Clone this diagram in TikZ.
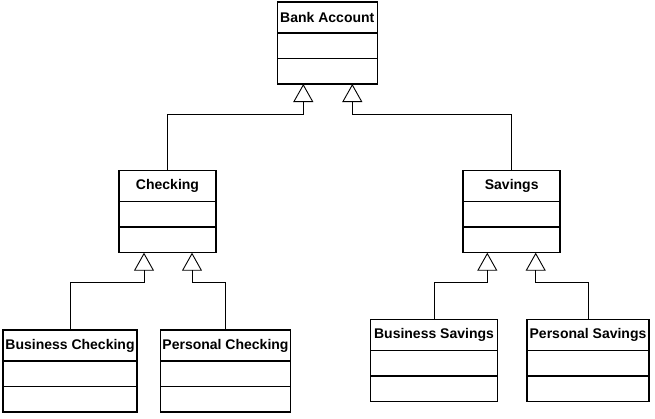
\documentclass[tikz,border=0pt]{standalone}
\usepackage{fontspec}
\setmainfont{Liberation Sans}
\usetikzlibrary{positioning,arrows.meta}
\begin{document}
\begin{tikzpicture}[
  x=1pt, y=-1pt,
  head/.style={rectangle, draw, line width=1.5pt, minimum width=#1, minimum height=31pt, inner sep=0pt, outer sep=0pt, font=\bfseries\fontsize{14}{16}\selectfont},
  part/.style={rectangle, draw, line width=1.5pt, minimum width=#1, minimum height=25.5pt, inner sep=0pt, outer sep=0pt},
  inherit/.style={-{Triangle[open, length=18pt, width=20pt]}, line width=0.9pt}
]
\useasboundingbox (0,0) rectangle (655,418);

% base class
\node[head=100pt, anchor=north] (acc) at (327.3,2) {Bank Account};
\node[part=100pt, below=0pt of acc] (acc-a) {};
\node[part=100pt, below=0pt of acc-a] (acc-b) {};

% second level
\node[head=97pt, anchor=north] (chk) at (167.5,170.7) {Checking};
\node[part=97pt, below=0pt of chk] (chk-a) {};
\node[part=97pt, below=0pt of chk-a] (chk-b) {};

\node[head=97pt, anchor=north] (sav) at (511.7,170.7) {Savings};
\node[part=97pt, below=0pt of sav] (sav-a) {};
\node[part=97pt, below=0pt of sav-a] (sav-b) {};

% leaf classes
\node[head=134pt, anchor=north] (bchk) at (70,330) {Business Checking};
\node[part=134pt, below=0pt of bchk] (bchk-a) {};
\node[part=134pt, below=0pt of bchk-a] (bchk-b) {};

\node[head=130pt, anchor=north] (pchk) at (225.5,330) {Personal Checking};
\node[part=130pt, below=0pt of pchk] (pchk-a) {};
\node[part=130pt, below=0pt of pchk-a] (pchk-b) {};

\node[head=127pt, anchor=north] (bsav) at (434,319.3) {Business Savings};
\node[part=127pt, below=0pt of bsav] (bsav-a) {};
\node[part=127pt, below=0pt of bsav-a] (bsav-b) {};

\node[head=122pt, anchor=north] (psav) at (588,319.3) {Personal Savings};
\node[part=122pt, below=0pt of psav] (psav-a) {};
\node[part=122pt, below=0pt of psav-a] (psav-b) {};

% arrow ends under each parent
\coordinate (acc-l) at ([xshift=-24pt]acc-b.south);
\coordinate (acc-r) at ([xshift=25pt]acc-b.south);
\coordinate (chk-l) at ([xshift=-23.5pt]chk-b.south);
\coordinate (chk-r) at ([xshift=24.5pt]chk-b.south);
\coordinate (sav-l) at ([xshift=-24.4pt]sav-b.south);
\coordinate (sav-r) at ([xshift=24pt]sav-b.south);

% generalisations
\draw[inherit] (chk.north) |- ([yshift=-30pt]acc-l) -- (acc-l);
\draw[inherit] (sav.north) |- ([yshift=-30pt]acc-r) -- (acc-r);
\draw[inherit] (bchk.north) |- ([yshift=-30pt]chk-l) -- (chk-l);
\draw[inherit] (pchk.north) |- ([yshift=-30pt]chk-r) -- (chk-r);
\draw[inherit] (bsav.north) |- ([yshift=-30pt]sav-l) -- (sav-l);
\draw[inherit] (psav.north) |- ([yshift=-30pt]sav-r) -- (sav-r);
\end{tikzpicture}
\end{document}
